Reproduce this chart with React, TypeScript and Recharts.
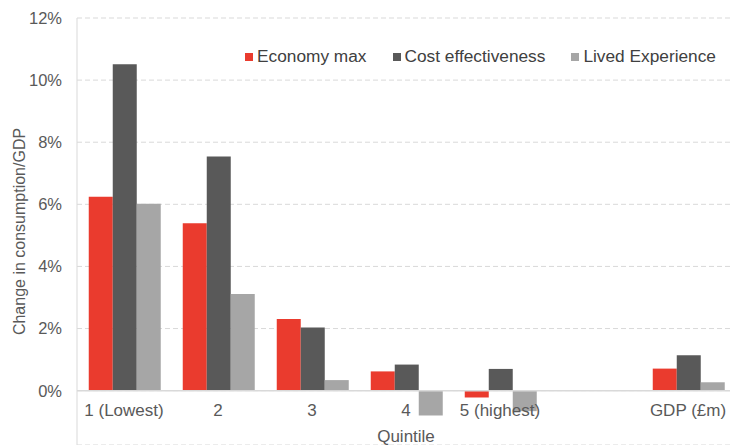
import React from "react"
import {
  BarChart,
  Bar,
  XAxis,
  YAxis,
  CartesianGrid,
  ReferenceLine,
  Legend,
  Label,
} from "recharts"

const categories = ["1 (Lowest)", "2", "3", "4", "5 (highest)", "", "GDP (£m)"]
const economyMax = [6.24, 5.39, 2.31, 0.62, -0.22, null, 0.71]
const costEffectiveness = [10.51, 7.54, 2.03, 0.84, 0.7, null, 1.14]
const livedExperience = [6.02, 3.11, 0.34, -0.8, -0.66, null, 0.27]
const yTicks = [0, 2, 4, 6, 8, 10, 12]

const series = [
  { key: "economy", label: "Economy max", color: "#EA3B2E", values: economyMax },
  { key: "cost", label: "Cost effectiveness", color: "#595959", values: costEffectiveness },
  { key: "lived", label: "Lived Experience", color: "#A6A6A6", values: livedExperience },
]

const data = categories.map((c, i) => {
  const row: Record<string, string | number | null> = { quintile: c }
  series.forEach((s) => {
    row[s.key] = s.values[i]
  })
  return row
})

const FONT = "'Liberation Sans', Arial, sans-serif"
const TEXT = "#595959"
const AXIS = "#D9D9D9"

const TOP = 18
const PLOT_BOTTOM = 445
const X_AXIS_H = 30
const CHART_W = 735
const CHART_H = PLOT_BOTTOM + X_AXIS_H
const Y_MIN = -1.75
const Y_MAX = 12
// y pixel of the 0% line, where the category labels hang
const ZERO_Y = TOP + ((PLOT_BOTTOM - TOP) * Y_MAX) / (Y_MAX - Y_MIN)

const CategoryTick = ({ x, payload }: any) => (
  <text
    x={x}
    y={ZERO_Y + 25}
    textAnchor="middle"
    fill={TEXT}
    fontSize={17}
    fontFamily={FONT}
  >
    {payload.value}
  </text>
)

const LegendContent = () => (
  <div
    style={{
      display: "flex",
      whiteSpace: "nowrap",
      fontFamily: FONT,
      fontSize: 17.3,
      color: "#404040",
    }}
  >
    {series.map((s) => (
      <div key={s.key} style={{ display: "flex", alignItems: "center", marginRight: 26 }}>
        <span
          style={{ width: 8, height: 8, background: s.color, marginRight: 4, display: "inline-block" }}
        />
        <span>{s.label}</span>
      </div>
    ))}
  </div>
)

export default function App() {
  return (
    <div
      style={{
        position: "absolute",
        left: 0,
        top: 0,
        width: 730,
        height: 445,
        overflow: "hidden",
        background: "#fff",
      }}
    >
      <BarChart
        width={CHART_W}
        height={CHART_H}
        data={data}
        margin={{ top: TOP, right: 0, bottom: 0, left: 0 }}
        barCategoryGap="12.5%"
        barGap={0}
      >
        <CartesianGrid vertical={false} stroke={AXIS} strokeDasharray="5 3" />
        <XAxis
          dataKey="quintile"
          height={X_AXIS_H}
          interval={0}
          axisLine={false}
          tickLine={false}
          tick={<CategoryTick />}
        >
          <Label
            value="Quintile"
            position="insideBottom"
            offset={X_AXIS_H + 3}
            fill={TEXT}
            fontSize={17}
            fontFamily={FONT}
          />
        </XAxis>
        <YAxis
          width={77}
          domain={[Y_MIN, Y_MAX]}
          ticks={yTicks}
          allowDataOverflow
          tickFormatter={(v: number) => `${v}%`}
          axisLine={{ stroke: AXIS }}
          tickLine={false}
          tickSize={0}
          tickMargin={15}
          tick={{ fill: TEXT, fontSize: 16.5, fontFamily: FONT }}
        >
          <Label
            value="Change in consumption/GDP"
            angle={-90}
            position="center"
            dx={-19}
            fill={TEXT}
            fontSize={16}
            fontFamily={FONT}
          />
        </YAxis>
        <ReferenceLine y={0} stroke={AXIS} strokeWidth={1.5} />
        <Legend
          layout="horizontal"
          verticalAlign="middle"
          align="center"
          content={<LegendContent />}
          wrapperStyle={{ top: 46, left: 245, width: 485 }}
        />
        {series.map((s) => (
          <Bar key={s.key} dataKey={s.key} name={s.label} fill={s.color} isAnimationActive={false} />
        ))}
      </BarChart>
    </div>
  )
}
